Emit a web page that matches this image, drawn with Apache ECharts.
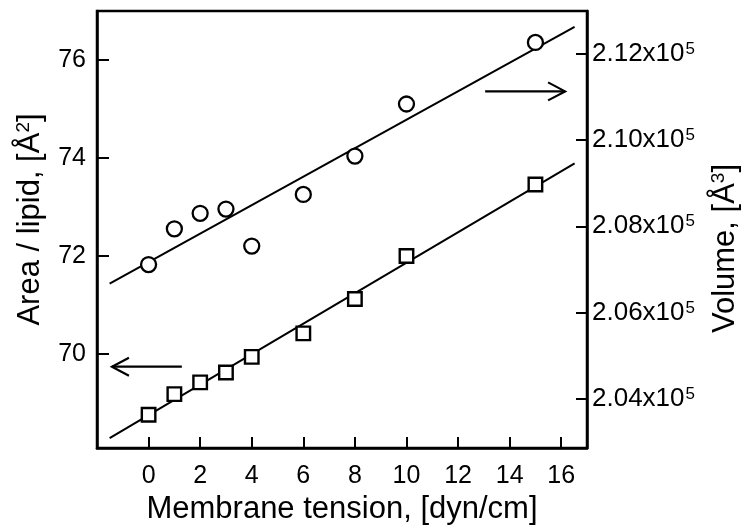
<!DOCTYPE html>
<html>
<head>
<meta charset="utf-8">
<script src="https://cdn.jsdelivr.net/npm/echarts@6/dist/echarts.min.js"></script>
<style>html,body{margin:0;padding:0;background:#fff}#c{width:750px;height:532px}</style>
</head>
<body>
<div id="c"></div>
<script>
// ---- data ----
const tension = [0, 1, 2, 3, 4, 6, 8, 10, 15];
const areaPerLipid = [68.76, 69.18, 69.42, 69.62, 69.94, 70.42, 71.12, 72.0, 73.46];
const volume = [207110, 207940, 208300, 208400, 207540, 208740, 209630, 210840, 212270];
const fitX = [-1.51, 16.52];
const areaFit = [68.28, 73.89];
const volumeFit = [206667, 212633];
const xTickLabels = [0, 2, 4, 6, 8, 10, 12, 14, 16];
const areaTickLabels = [70, 72, 74, 76];
const volumeTickLabels = [204000, 206000, 208000, 210000, 212000];
const areaArrow = [1.29, 69.74, -1.42, 69.74];      // x1, y1 -> x2, y2 (points left)
const volumeArrow = [13.05, 211133, 16.15, 211133]; // points right

const FONT = '"Liberation Sans", Arial, Helvetica, sans-serif';
const chart = echarts.init(document.getElementById('c'), null, {renderer: 'canvas'});

function arrowRender(params, api) {
  const p1 = api.coord([api.value(0), api.value(1)]);
  const p2 = api.coord([api.value(2), api.value(3)]);
  const dx = p2[0] - p1[0], dy = p2[1] - p1[1];
  const len = Math.sqrt(dx * dx + dy * dy);
  const ux = dx / len, uy = dy / len;
  const hl = 17, hw = 9;
  const h1 = [p2[0] - ux * hl - uy * hw, p2[1] - uy * hl + ux * hw];
  const h2 = [p2[0] - ux * hl + uy * hw, p2[1] - uy * hl - ux * hw];
  return {
    type: 'group',
    children: [
      {type: 'line', shape: {x1: p1[0], y1: p1[1], x2: p2[0], y2: p2[1]}, style: {stroke: '#000', lineWidth: 2.2}},
      {type: 'polyline', shape: {points: [h1, p2, h2]}, style: {stroke: '#000', lineWidth: 2.2, fill: null}}
    ]
  };
}

chart.setOption({
  animation: false,
  backgroundColor: '#fff',
  textStyle: {fontFamily: FONT, color: '#000'},
  grid: {left: 97, right: 163, top: 11, bottom: 84, containLabel: false, outerBoundsMode: 'none',
         show: true, borderColor: '#000', borderWidth: 2.5, backgroundColor: 'transparent'},
  xAxis: {
    type: 'value', min: -2, max: 17, interval: 2,
    name: 'Membrane tension, [dyn/cm]', nameLocation: 'middle', nameGap: 44,
    nameTextStyle: {fontSize: 31, color: '#000', fontFamily: FONT},
    axisLine: {show: true, onZero: false, lineStyle: {color: '#000', width: 2.5}},
    axisTick: {show: true, inside: true, length: 11, lineStyle: {color: '#000', width: 2}},
    axisLabel: {fontSize: 25, color: '#000', margin: 16, fontFamily: FONT,
      formatter: v => xTickLabels.indexOf(v) >= 0 ? String(v) : ''},
    splitLine: {show: false}
  },
  yAxis: [
    {
      type: 'value', position: 'left', min: 68.08, max: 77,
      name: 'Area / lipid, [Å{sup|2}]', nameLocation: 'middle', nameGap: 50, nameRotate: 90,
      nameTextStyle: {fontSize: 31, color: '#000', fontFamily: FONT, padding: [0, 0, 0, 20],
        rich: {sup: {fontSize: 19, verticalAlign: 'top', color: '#000', fontFamily: FONT, padding: [0, 0, 14, 0]}}},
      axisLine: {show: true, onZero: false, lineStyle: {color: '#000', width: 2.5}},
      axisTick: {show: true, inside: true, length: 12, lineStyle: {color: '#000', width: 2}},
      axisLabel: {fontSize: 25, color: '#000', margin: 11, fontFamily: FONT,
        formatter: v => areaTickLabels.indexOf(v) >= 0 ? String(v) : ''},
      splitLine: {show: false}
    },
    {
      type: 'value', position: 'right', min: 202850, max: 213000,
      name: 'Volume, [Å{sup|3}]', nameLocation: 'middle', nameGap: 122, nameRotate: 90,
      nameTextStyle: {fontSize: 31, color: '#000', fontFamily: FONT, padding: [0, 38, 0, 0],
        rich: {sup: {fontSize: 19, verticalAlign: 'top', color: '#000', fontFamily: FONT, padding: [0, 0, 14, 0]}}},
      axisLine: {show: true, onZero: false, lineStyle: {color: '#000', width: 2.5}},
      axisTick: {show: true, inside: true, length: 11, lineStyle: {color: '#000', width: 2}},
      axisLabel: {color: '#000', margin: 5, fontFamily: FONT,
        formatter: v => volumeTickLabels.indexOf(v) >= 0 ? '{a|' + (v / 1e5).toFixed(2) + 'x10}{s|5}' : '',
        rich: {a: {fontSize: 26, color: '#000', fontFamily: FONT},
               s: {fontSize: 17, color: '#000', fontFamily: FONT, verticalAlign: 'top', padding: [0, 0, 8, 1]}}},
      splitLine: {show: false}
    }
  ],
  series: [
    {type: 'line', yAxisIndex: 0, showSymbol: false, z: 2, silent: true,
     data: fitX.map((x, i) => [x, areaFit[i]]), lineStyle: {color: '#000', width: 2}},
    {type: 'line', yAxisIndex: 1, showSymbol: false, z: 2, silent: true,
     data: fitX.map((x, i) => [x, volumeFit[i]]), lineStyle: {color: '#000', width: 2}},
    {type: 'scatter', yAxisIndex: 0, symbol: 'rect', symbolSize: 13.5, z: 3,
     data: tension.map((x, i) => [x, areaPerLipid[i]]),
     itemStyle: {color: '#fff', borderColor: '#000', borderWidth: 2.4, opacity: 1}},
    {type: 'scatter', yAxisIndex: 1, symbol: 'circle', symbolSize: 15, z: 3,
     data: tension.map((x, i) => [x, volume[i]]),
     itemStyle: {color: '#fff', borderColor: '#000', borderWidth: 2.3, opacity: 1}},
    {type: 'custom', yAxisIndex: 0, renderItem: arrowRender, data: [areaArrow], z: 4, silent: true},
    {type: 'custom', yAxisIndex: 1, renderItem: arrowRender, data: [volumeArrow], z: 4, silent: true}
  ]
});
</script>
</body>
</html>
